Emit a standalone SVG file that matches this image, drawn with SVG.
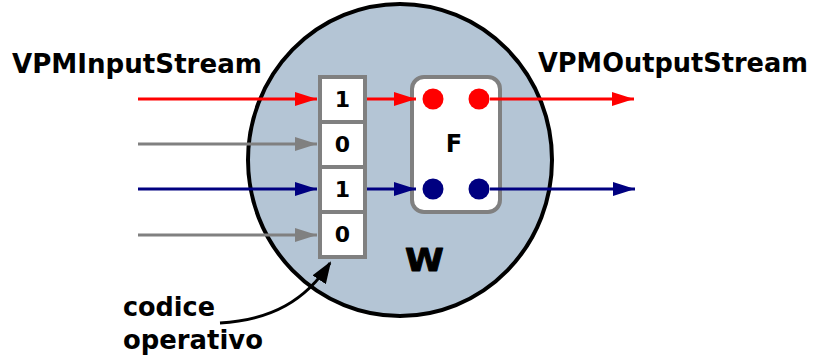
<svg xmlns="http://www.w3.org/2000/svg" width="814" height="358" viewBox="0 0 814 358">
<defs>
<style>
text{font-family:"DejaVu Sans","Verdana",sans-serif;font-weight:bold;fill:#000}
.lbl{font-size:26px}
.dig{font-size:22px;text-anchor:middle}
.cell{fill:#fff;stroke:#808080;stroke-width:4}
.ln{fill:none;stroke-width:3}
</style>
<marker id="aR" markerWidth="22" markerHeight="14" refX="22" refY="7" orient="auto" markerUnits="userSpaceOnUse"><path d="M0,0 L22,7 L0,14 z" fill="#ff0000"/></marker>
<marker id="aB" markerWidth="22" markerHeight="14" refX="22" refY="7" orient="auto" markerUnits="userSpaceOnUse"><path d="M0,0 L22,7 L0,14 z" fill="#000080"/></marker>
<marker id="aG" markerWidth="22" markerHeight="14" refX="22" refY="7" orient="auto" markerUnits="userSpaceOnUse"><path d="M0,0 L22,7 L0,14 z" fill="#808080"/></marker>
<marker id="aK" markerWidth="22" markerHeight="16" refX="20" refY="8" orient="auto" markerUnits="userSpaceOnUse"><path d="M0,0 L22,8 L0,16 z" fill="#000"/></marker>
</defs>
<g id="W">
<ellipse cx="400" cy="160" rx="152" ry="156" fill="#b4c5d5" stroke="#000" stroke-width="4"/>
<text transform="translate(424.5,271) scale(1.1,1)" font-size="32" text-anchor="middle" stroke="#000" stroke-width="1" stroke-linejoin="round">W</text>
</g>
<g id="labels">
<text class="lbl" x="12" y="73" textLength="250" lengthAdjust="spacingAndGlyphs">VPMInputStream</text>
<text class="lbl" x="538" y="72" textLength="270" lengthAdjust="spacingAndGlyphs">VPMOutputStream</text>
<text class="lbl" x="123" y="316" textLength="92" lengthAdjust="spacingAndGlyphs">codice</text>
<text class="lbl" x="123" y="349" textLength="140" lengthAdjust="spacingAndGlyphs">operativo</text>
</g>
<g id="opcode">
<rect class="cell" x="320" y="77" width="45" height="45"/>
<rect class="cell" x="320" y="122" width="45" height="45"/>
<rect class="cell" x="320" y="167" width="45" height="45"/>
<rect class="cell" x="320" y="212" width="45" height="45"/>
<text class="dig" x="342.5" y="107">1</text>
<text class="dig" x="342.5" y="152">0</text>
<text class="dig" x="342.5" y="197">1</text>
<text class="dig" x="342.5" y="242">0</text>
</g>
<g id="F">
<rect x="412" y="77" width="88" height="135" rx="12" ry="12" fill="#fff" stroke="#808080" stroke-width="4"/>
<text x="454" y="152" font-size="24" text-anchor="middle">F</text>
<circle cx="433" cy="99" r="10.5" fill="#ff0000"/>
<circle cx="479" cy="99" r="10.5" fill="#ff0000"/>
<circle cx="433" cy="189" r="10.5" fill="#000080"/>
<circle cx="479" cy="189" r="10.5" fill="#000080"/>
</g>
<g id="connectors">
<path class="ln" d="M138,99 H317" stroke="#ff0000" marker-end="url(#aR)"/>
<path class="ln" d="M138,144 H317" stroke="#808080" marker-end="url(#aG)"/>
<path class="ln" d="M138,189 H317" stroke="#000080" marker-end="url(#aB)"/>
<path class="ln" d="M138,235 H317" stroke="#808080" marker-end="url(#aG)"/>
<path class="ln" d="M367,99 H416" stroke="#ff0000" marker-end="url(#aR)"/>
<path class="ln" d="M367,189 H416" stroke="#000080" marker-end="url(#aB)"/>
<path class="ln" d="M490,99 H634" stroke="#ff0000" marker-end="url(#aR)"/>
<path class="ln" d="M490,189 H635" stroke="#000080" marker-end="url(#aB)"/>
<path class="ln" d="M220,323 C272,320 306,300 330,263" stroke="#000" marker-end="url(#aK)"/>
</g>
</svg>
